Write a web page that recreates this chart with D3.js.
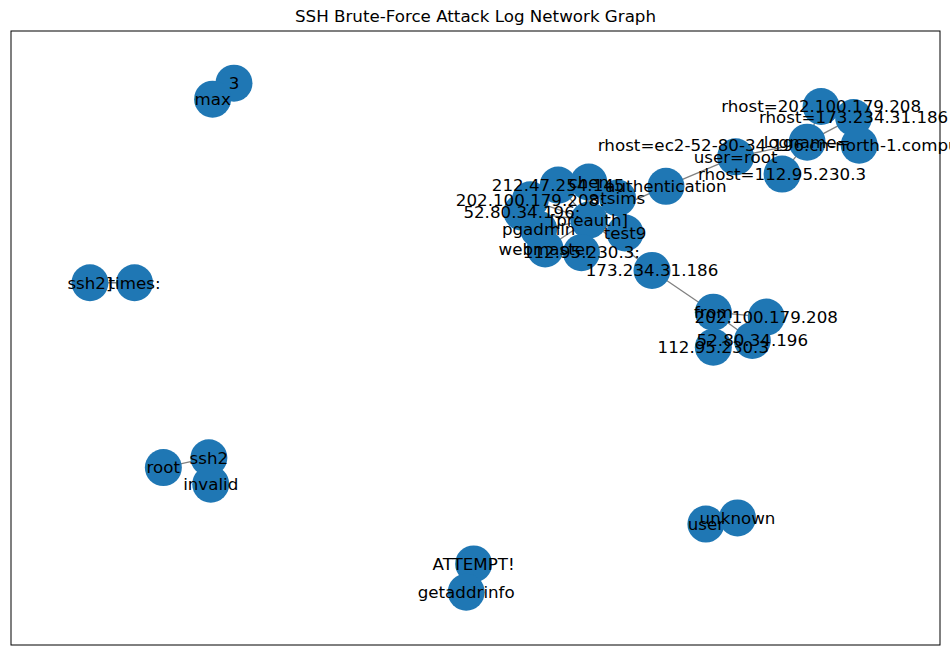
<!DOCTYPE html>
<html><head><meta charset="utf-8">
<script src="https://cdn.jsdelivr.net/npm/d3@7"></script>
<style>body{margin:0;background:#fff}svg{font-family:"DejaVu Sans",sans-serif}</style>
</head><body>
<svg id="c" width="950" height="656"></svg>
<script>
// node names and layout positions (layout units, x 0..1 left->right, y 0..1 top->bottom)
const nodeNames = ["rhost=202.100.179.208","rhost=173.234.31.186","logname=","rhost=ec2-52-80-34-196.cn-north-1.compute.amazonaws.com","user=root","rhost=112.95.230.3","authentication","chen","212.47.254.145","202.100.179.208:","52.80.34.196:","atsims","[preauth]","pgadmin","test9","webmaster","112.95.230.3:","173.234.31.186","from","202.100.179.208","52.80.34.196","112.95.230.3","3","max","ssh2]","times:","root","ssh2","invalid","ATTEMPT!","getaddrinfo","user","unknown"];
const nodeX = [0.872,0.907,0.857,0.913,0.780,0.830,0.705,0.622,0.589,0.559,0.550,0.653,0.622,0.568,0.661,0.575,0.614,0.690,0.756,0.813,0.798,0.756,0.240,0.217,0.085,0.133,0.164,0.213,0.215,0.498,0.490,0.748,0.782];
const nodeY = [0.123,0.141,0.181,0.186,0.205,0.233,0.253,0.246,0.251,0.275,0.295,0.272,0.308,0.323,0.329,0.355,0.361,0.390,0.458,0.466,0.504,0.515,0.085,0.111,0.410,0.410,0.711,0.695,0.738,0.868,0.914,0.803,0.793];
const edgeList = [["logname=","rhost=202.100.179.208"],["logname=","rhost=173.234.31.186"],["logname=","rhost=ec2-52-80-34-196.cn-north-1.compute.amazonaws.com"],["logname=","rhost=112.95.230.3"],["logname=","user=root"],["user=root","authentication"],["authentication","[preauth]"],["[preauth]","chen"],["[preauth]","212.47.254.145"],["[preauth]","202.100.179.208:"],["[preauth]","52.80.34.196:"],["[preauth]","atsims"],["[preauth]","pgadmin"],["[preauth]","test9"],["[preauth]","webmaster"],["[preauth]","112.95.230.3:"],["[preauth]","173.234.31.186"],["173.234.31.186","from"],["from","202.100.179.208"],["from","52.80.34.196"],["from","112.95.230.3"],["3","max"],["ssh2]","times:"],["root","ssh2"],["ssh2","invalid"],["ATTEMPT!","getaddrinfo"],["user","unknown"]];
const title = "SSH Brute-Force Attack Log Network Graph";

const svg = d3.select("#c");
const L=11,R=940,T=31,B=645;
const x = d3.scaleLinear().domain([0,1]).range([L,R]);
const y = d3.scaleLinear().domain([0,1]).range([T,B]);
const nodes = nodeNames.map((n,i)=>({n,x:nodeX[i],y:nodeY[i]}));
const byName = new Map(nodes.map(d=>[d.n,d]));
svg.append("text").attr("x",(L+R)/2).attr("y",22).attr("text-anchor","middle").attr("font-size",16.7).text(title);
svg.append("g").selectAll("line").data(edgeList).join("line")
  .attr("x1",d=>x(byName.get(d[0]).x)).attr("y1",d=>y(byName.get(d[0]).y))
  .attr("x2",d=>x(byName.get(d[1]).x)).attr("y2",d=>y(byName.get(d[1]).y))
  .attr("stroke","#808080").attr("stroke-width",1.3);
svg.append("g").selectAll("circle").data(nodes).join("circle")
  .attr("cx",d=>x(d.x)).attr("cy",d=>y(d.y)).attr("r",18.5).attr("fill","#1f77b4");
svg.append("g").selectAll("text").data(nodes).join("text")
  .attr("x",d=>x(d.x)).attr("y",d=>y(d.y)).attr("dy","0.35em").attr("text-anchor","middle")
  .attr("font-size",16.7).attr("fill","#000").text(d=>d.n);
svg.append("rect").attr("x",L).attr("y",T).attr("width",R-L).attr("height",B-T).attr("fill","none").attr("stroke","#000").attr("stroke-width",1);
</script>
</body></html>
